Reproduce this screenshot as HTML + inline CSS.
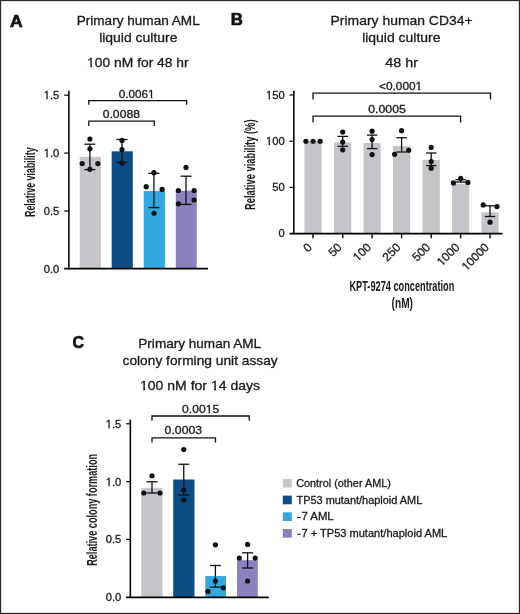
<!DOCTYPE html>
<html><head><meta charset="utf-8"><style>
html,body{margin:0;padding:0;background:#fff;overflow:hidden;}
svg{display:block;will-change:transform;font-family:"Liberation Sans",sans-serif;}
</style></head><body>
<svg width="520" height="614" viewBox="0 0 520 614">
<rect x="0" y="0" width="520" height="614" fill="#fff"/>
<rect x="79.7" y="156.9" width="21.2" height="112.1" fill="#c6c4c9"/>
<rect x="111.7" y="151.3" width="21.1" height="117.69999999999999" fill="#0e4c86"/>
<rect x="143.7" y="191" width="21.2" height="78" fill="#31a8df"/>
<rect x="175.8" y="190.7" width="21.0" height="78.30000000000001" fill="#8d80bf"/>
<rect x="304.4" y="141.25" width="17.2" height="92.35" fill="#c6c4c9"/>
<rect x="334.09999999999997" y="142.5" width="17.2" height="91.1" fill="#c6c4c9"/>
<rect x="363.5" y="143" width="17.2" height="90.6" fill="#c6c4c9"/>
<rect x="393.0" y="146" width="17.2" height="87.6" fill="#c6c4c9"/>
<rect x="422.59999999999997" y="159.9" width="17.2" height="73.69999999999999" fill="#c6c4c9"/>
<rect x="452.0" y="183.8" width="17.2" height="49.79999999999998" fill="#c6c4c9"/>
<rect x="481.4" y="212.3" width="17.2" height="21.299999999999983" fill="#c6c4c9"/>
<rect x="141.25" y="488.25" width="21.25" height="109.04999999999995" fill="#c6c4c9"/>
<rect x="173.25" y="479.5" width="21.25" height="117.79999999999995" fill="#0e4c86"/>
<rect x="205.25" y="576.1" width="20.75" height="21.199999999999932" fill="#31a8df"/>
<rect x="237" y="560.2" width="20.8" height="37.09999999999991" fill="#8d80bf"/>
<line x1="68.9" y1="90.8" x2="68.9" y2="269.4" stroke="#000" stroke-width="1.55"/>
<line x1="64.2" y1="268.7" x2="208" y2="268.7" stroke="#000" stroke-width="1.8"/>
<line x1="64.2" y1="95.20000000000002" x2="68.9" y2="95.20000000000002" stroke="#000" stroke-width="1.2"/>
<line x1="64.2" y1="153.09999999999997" x2="68.9" y2="153.09999999999997" stroke="#000" stroke-width="1.2"/>
<line x1="64.2" y1="210.99999999999997" x2="68.9" y2="210.99999999999997" stroke="#000" stroke-width="1.2"/>
<line x1="89.9" y1="144.2" x2="89.9" y2="169.6" stroke="#111" stroke-width="1.3"/>
<line x1="84.4" y1="144.2" x2="95.4" y2="144.2" stroke="#111" stroke-width="1.3"/>
<line x1="84.4" y1="169.6" x2="95.4" y2="169.6" stroke="#111" stroke-width="1.3"/>
<line x1="122" y1="139.5" x2="122" y2="162.4" stroke="#111" stroke-width="1.3"/>
<line x1="116.5" y1="139.5" x2="127.5" y2="139.5" stroke="#111" stroke-width="1.3"/>
<line x1="116.5" y1="162.4" x2="127.5" y2="162.4" stroke="#111" stroke-width="1.3"/>
<line x1="153.9" y1="173.3" x2="153.9" y2="207.6" stroke="#111" stroke-width="1.3"/>
<line x1="148.4" y1="173.3" x2="159.4" y2="173.3" stroke="#111" stroke-width="1.3"/>
<line x1="148.4" y1="207.6" x2="159.4" y2="207.6" stroke="#111" stroke-width="1.3"/>
<line x1="186" y1="176.2" x2="186" y2="204.4" stroke="#111" stroke-width="1.3"/>
<line x1="180.5" y1="176.2" x2="191.5" y2="176.2" stroke="#111" stroke-width="1.3"/>
<line x1="180.5" y1="204.4" x2="191.5" y2="204.4" stroke="#111" stroke-width="1.3"/>
<circle cx="89.9" cy="139.1" r="2.6" fill="#111"/>
<circle cx="89.9" cy="148.8" r="2.6" fill="#111"/>
<circle cx="82.2" cy="163.6" r="2.6" fill="#111"/>
<circle cx="97.9" cy="163.6" r="2.6" fill="#111"/>
<circle cx="89.9" cy="169.3" r="2.6" fill="#111"/>
<circle cx="122" cy="140.4" r="2.6" fill="#111"/>
<circle cx="122" cy="149.7" r="2.6" fill="#111"/>
<circle cx="122" cy="163.3" r="2.6" fill="#111"/>
<circle cx="153.9" cy="172.7" r="2.6" fill="#111"/>
<circle cx="146.2" cy="186.7" r="2.6" fill="#111"/>
<circle cx="162.1" cy="189.4" r="2.6" fill="#111"/>
<circle cx="154" cy="213.25" r="2.6" fill="#111"/>
<circle cx="186" cy="167.4" r="2.6" fill="#111"/>
<circle cx="178.4" cy="190.5" r="2.6" fill="#111"/>
<circle cx="194.1" cy="190.5" r="2.6" fill="#111"/>
<circle cx="194.1" cy="200" r="2.6" fill="#111"/>
<circle cx="178.4" cy="203.8" r="2.6" fill="#111"/>
<polyline points="88.8,104.8 88.8,100.6 186.6,100.6 186.6,104.8" fill="none" stroke="#111" stroke-width="1.3"/>
<polyline points="88.8,126 88.8,121.2 154.3,121.2 154.3,126" fill="none" stroke="#111" stroke-width="1.3"/>
<line x1="293.8" y1="90.8" x2="293.8" y2="234.3" stroke="#000" stroke-width="1.55"/>
<line x1="289.5" y1="233.6" x2="502.5" y2="233.6" stroke="#000" stroke-width="1.8"/>
<line x1="289.5" y1="95.0" x2="293.8" y2="95.0" stroke="#000" stroke-width="1.2"/>
<line x1="289.5" y1="141.2" x2="293.8" y2="141.2" stroke="#000" stroke-width="1.2"/>
<line x1="289.5" y1="187.39999999999998" x2="293.8" y2="187.39999999999998" stroke="#000" stroke-width="1.2"/>
<line x1="313" y1="233.6" x2="313" y2="238.3" stroke="#000" stroke-width="1.4"/>
<line x1="342.7" y1="233.6" x2="342.7" y2="238.3" stroke="#000" stroke-width="1.4"/>
<line x1="372.1" y1="233.6" x2="372.1" y2="238.3" stroke="#000" stroke-width="1.4"/>
<line x1="401.6" y1="233.6" x2="401.6" y2="238.3" stroke="#000" stroke-width="1.4"/>
<line x1="431.2" y1="233.6" x2="431.2" y2="238.3" stroke="#000" stroke-width="1.4"/>
<line x1="460.6" y1="233.6" x2="460.6" y2="238.3" stroke="#000" stroke-width="1.4"/>
<line x1="490" y1="233.6" x2="490" y2="238.3" stroke="#000" stroke-width="1.4"/>
<line x1="342.7" y1="136.4" x2="342.7" y2="146.3" stroke="#111" stroke-width="1.3"/>
<line x1="337.5" y1="136.4" x2="347.9" y2="136.4" stroke="#111" stroke-width="1.3"/>
<line x1="337.5" y1="146.3" x2="347.9" y2="146.3" stroke="#111" stroke-width="1.3"/>
<line x1="372.1" y1="135.1" x2="372.1" y2="148.6" stroke="#111" stroke-width="1.3"/>
<line x1="366.90000000000003" y1="135.1" x2="377.3" y2="135.1" stroke="#111" stroke-width="1.3"/>
<line x1="366.90000000000003" y1="148.6" x2="377.3" y2="148.6" stroke="#111" stroke-width="1.3"/>
<line x1="401.6" y1="137.7" x2="401.6" y2="152" stroke="#111" stroke-width="1.3"/>
<line x1="396.40000000000003" y1="137.7" x2="406.8" y2="137.7" stroke="#111" stroke-width="1.3"/>
<line x1="396.40000000000003" y1="152" x2="406.8" y2="152" stroke="#111" stroke-width="1.3"/>
<line x1="431.2" y1="153" x2="431.2" y2="165.6" stroke="#111" stroke-width="1.3"/>
<line x1="426.0" y1="153" x2="436.4" y2="153" stroke="#111" stroke-width="1.3"/>
<line x1="426.0" y1="165.6" x2="436.4" y2="165.6" stroke="#111" stroke-width="1.3"/>
<line x1="460.6" y1="179.7" x2="460.6" y2="182.1" stroke="#111" stroke-width="1.3"/>
<line x1="455.40000000000003" y1="179.7" x2="465.8" y2="179.7" stroke="#111" stroke-width="1.3"/>
<line x1="455.40000000000003" y1="182.1" x2="465.8" y2="182.1" stroke="#111" stroke-width="1.3"/>
<line x1="490" y1="205.8" x2="490" y2="216.5" stroke="#111" stroke-width="1.3"/>
<line x1="484.8" y1="205.8" x2="495.2" y2="205.8" stroke="#111" stroke-width="1.3"/>
<line x1="484.8" y1="216.5" x2="495.2" y2="216.5" stroke="#111" stroke-width="1.3"/>
<circle cx="305.9" cy="141.25" r="2.6" fill="#111"/>
<circle cx="313" cy="141.25" r="2.6" fill="#111"/>
<circle cx="320.1" cy="141.25" r="2.6" fill="#111"/>
<circle cx="342.7" cy="132.1" r="2.6" fill="#111"/>
<circle cx="342.7" cy="142" r="2.6" fill="#111"/>
<circle cx="342.7" cy="149.8" r="2.6" fill="#111"/>
<circle cx="372.1" cy="131.2" r="2.6" fill="#111"/>
<circle cx="372.1" cy="139.6" r="2.6" fill="#111"/>
<circle cx="372.1" cy="154.6" r="2.6" fill="#111"/>
<circle cx="401.6" cy="130.7" r="2.6" fill="#111"/>
<circle cx="394.6" cy="154.3" r="2.6" fill="#111"/>
<circle cx="408.7" cy="150.3" r="2.6" fill="#111"/>
<circle cx="431.2" cy="147.4" r="2.6" fill="#111"/>
<circle cx="431.2" cy="161.6" r="2.6" fill="#111"/>
<circle cx="431.2" cy="168.2" r="2.6" fill="#111"/>
<circle cx="453.4" cy="182.9" r="2.6" fill="#111"/>
<circle cx="460.7" cy="178.4" r="2.6" fill="#111"/>
<circle cx="467.9" cy="182.4" r="2.6" fill="#111"/>
<circle cx="483.2" cy="204.9" r="2.6" fill="#111"/>
<circle cx="497" cy="206.6" r="2.6" fill="#111"/>
<circle cx="490" cy="222.2" r="2.6" fill="#111"/>
<polyline points="313,99.4 313,93.2 490.5,93.2 490.5,99.4" fill="none" stroke="#111" stroke-width="1.3"/>
<polyline points="313,122.4 313,116.2 460.6,116.2 460.6,122.4" fill="none" stroke="#111" stroke-width="1.3"/>
<line x1="130.35" y1="419.6" x2="130.35" y2="598" stroke="#000" stroke-width="1.55"/>
<line x1="126.1" y1="597.3" x2="268.8" y2="597.3" stroke="#000" stroke-width="1.8"/>
<line x1="126.1" y1="423.80000000000007" x2="130.35" y2="423.80000000000007" stroke="#000" stroke-width="1.2"/>
<line x1="126.1" y1="481.6333333333333" x2="130.35" y2="481.6333333333333" stroke="#000" stroke-width="1.2"/>
<line x1="126.1" y1="539.4666666666667" x2="130.35" y2="539.4666666666667" stroke="#000" stroke-width="1.2"/>
<line x1="152" y1="481.75" x2="152" y2="493" stroke="#111" stroke-width="1.3"/>
<line x1="146.5" y1="481.75" x2="157.5" y2="481.75" stroke="#111" stroke-width="1.3"/>
<line x1="146.5" y1="493" x2="157.5" y2="493" stroke="#111" stroke-width="1.3"/>
<line x1="183.75" y1="464.25" x2="183.75" y2="495" stroke="#111" stroke-width="1.3"/>
<line x1="178.25" y1="464.25" x2="189.25" y2="464.25" stroke="#111" stroke-width="1.3"/>
<line x1="178.25" y1="495" x2="189.25" y2="495" stroke="#111" stroke-width="1.3"/>
<line x1="215.4" y1="565.5" x2="215.4" y2="587.1" stroke="#111" stroke-width="1.3"/>
<line x1="209.9" y1="565.5" x2="220.9" y2="565.5" stroke="#111" stroke-width="1.3"/>
<line x1="209.9" y1="587.1" x2="220.9" y2="587.1" stroke="#111" stroke-width="1.3"/>
<line x1="247.6" y1="552.8" x2="247.6" y2="568" stroke="#111" stroke-width="1.3"/>
<line x1="242.1" y1="552.8" x2="253.1" y2="552.8" stroke="#111" stroke-width="1.3"/>
<line x1="242.1" y1="568" x2="253.1" y2="568" stroke="#111" stroke-width="1.3"/>
<circle cx="152" cy="475.75" r="2.6" fill="#111"/>
<circle cx="143.75" cy="493" r="2.6" fill="#111"/>
<circle cx="160" cy="493" r="2.6" fill="#111"/>
<circle cx="183.75" cy="449.5" r="2.6" fill="#111"/>
<circle cx="183.75" cy="490" r="2.6" fill="#111"/>
<circle cx="183.75" cy="500" r="2.6" fill="#111"/>
<circle cx="215.4" cy="544.8" r="2.6" fill="#111"/>
<circle cx="215.4" cy="581" r="2.6" fill="#111"/>
<circle cx="208" cy="591.4" r="2.6" fill="#111"/>
<circle cx="223.5" cy="587.8" r="2.6" fill="#111"/>
<circle cx="247.6" cy="544.4" r="2.6" fill="#111"/>
<circle cx="239.3" cy="558.1" r="2.6" fill="#111"/>
<circle cx="255.2" cy="558.1" r="2.6" fill="#111"/>
<circle cx="247.6" cy="581" r="2.6" fill="#111"/>
<polyline points="152,420.8 152,416 249.25,416 249.25,420.8" fill="none" stroke="#111" stroke-width="1.3"/>
<polyline points="152,442.4 152,437.8 215.5,437.8 215.5,442.4" fill="none" stroke="#111" stroke-width="1.3"/>
<rect x="282.8" y="478.9" width="9" height="8.7" fill="#c6c4c9"/>
<rect x="282.8" y="495.59999999999997" width="9" height="8.7" fill="#0e4c86"/>
<rect x="282.8" y="512.3" width="9" height="8.7" fill="#31a8df"/>
<rect x="297.1" y="516.9499999999999" width="3.5" height="1.1" fill="#1a1a1a"/>
<rect x="282.8" y="529.0" width="9" height="8.7" fill="#8d80bf"/>
<rect x="297.1" y="533.65" width="3.5" height="1.1" fill="#1a1a1a"/>
<text x="9.95" y="27.20" font-size="17" textLength="12.64" lengthAdjust="spacingAndGlyphs" fill="#111" font-weight="bold" stroke="#111" stroke-width="0.7">A</text>
<text x="230.79" y="24.70" font-size="17" textLength="12.11" lengthAdjust="spacingAndGlyphs" fill="#111" font-weight="bold" stroke="#111" stroke-width="0.7">B</text>
<text x="72.56" y="347.80" font-size="17" textLength="11.49" lengthAdjust="spacingAndGlyphs" fill="#111" font-weight="bold" stroke="#111" stroke-width="0.7">C</text>
<text x="76.67" y="24.90" font-size="13.4" textLength="123.08" lengthAdjust="spacingAndGlyphs" fill="#1a1a1a" stroke="#1a1a1a" stroke-width="0.3">Primary human AML</text>
<text x="99.16" y="42.00" font-size="13.4" textLength="78.24" lengthAdjust="spacingAndGlyphs" fill="#1a1a1a" stroke="#1a1a1a" stroke-width="0.3">liquid culture</text>
<text x="87.13" y="67.30" font-size="13.4" textLength="101.55" lengthAdjust="spacingAndGlyphs" fill="#1a1a1a" stroke="#1a1a1a" stroke-width="0.3">100 nM for 48 hr</text>
<text x="43.74" y="98.80" font-size="11.2" textLength="15.57" lengthAdjust="spacingAndGlyphs" fill="#1a1a1a" stroke="#1a1a1a" stroke-width="0.3">1.5</text>
<text x="43.74" y="156.70" font-size="11.2" textLength="15.57" lengthAdjust="spacingAndGlyphs" fill="#1a1a1a" stroke="#1a1a1a" stroke-width="0.3">1.0</text>
<text x="43.74" y="214.60" font-size="11.2" textLength="15.57" lengthAdjust="spacingAndGlyphs" fill="#1a1a1a" stroke="#1a1a1a" stroke-width="0.3">0.5</text>
<text x="43.74" y="272.50" font-size="11.2" textLength="15.57" lengthAdjust="spacingAndGlyphs" fill="#1a1a1a" stroke="#1a1a1a" stroke-width="0.3">0.0</text>
<text x="-217.03" y="0.00" font-size="14.2" textLength="69.70" lengthAdjust="spacingAndGlyphs" fill="#1a1a1a" font-weight="bold" transform="translate(35.1,0) rotate(-90)">Relative viability</text>
<text x="118.85" y="97.50" font-size="10.8" textLength="35.79" lengthAdjust="spacingAndGlyphs" fill="#1a1a1a" stroke="#1a1a1a" stroke-width="0.3">0.0061</text>
<text x="102.74" y="117.80" font-size="10.8" textLength="37.20" lengthAdjust="spacingAndGlyphs" fill="#1a1a1a" stroke="#1a1a1a" stroke-width="0.3">0.0088</text>
<text x="330.59" y="25.00" font-size="13.4" textLength="142.03" lengthAdjust="spacingAndGlyphs" fill="#1a1a1a" stroke="#1a1a1a" stroke-width="0.3">Primary human CD34+</text>
<text x="362.16" y="41.60" font-size="13.4" textLength="78.34" lengthAdjust="spacingAndGlyphs" fill="#1a1a1a" stroke="#1a1a1a" stroke-width="0.3">liquid culture</text>
<text x="385.21" y="66.80" font-size="13.4" textLength="32.77" lengthAdjust="spacingAndGlyphs" fill="#1a1a1a" stroke="#1a1a1a" stroke-width="0.3">48 hr</text>
<text x="266.02" y="98.60" font-size="11.2" textLength="18.69" lengthAdjust="spacingAndGlyphs" fill="#1a1a1a" stroke="#1a1a1a" stroke-width="0.3">150</text>
<text x="266.02" y="144.80" font-size="11.2" textLength="18.69" lengthAdjust="spacingAndGlyphs" fill="#1a1a1a" stroke="#1a1a1a" stroke-width="0.3">100</text>
<text x="272.25" y="191.00" font-size="11.2" textLength="12.46" lengthAdjust="spacingAndGlyphs" fill="#1a1a1a" stroke="#1a1a1a" stroke-width="0.3">50</text>
<text x="278.48" y="237.20" font-size="11.2" textLength="6.23" lengthAdjust="spacingAndGlyphs" fill="#1a1a1a" stroke="#1a1a1a" stroke-width="0.3">0</text>
<text x="-210.06" y="0.00" font-size="14.2" textLength="90.56" lengthAdjust="spacingAndGlyphs" fill="#1a1a1a" font-weight="bold" transform="translate(255.1,0) rotate(-90)">Relative viability (%)</text>
<text x="379.03" y="90.40" font-size="10.8" textLength="43.22" lengthAdjust="spacingAndGlyphs" fill="#1a1a1a" stroke="#1a1a1a" stroke-width="0.3">&lt;0.0001</text>
<text x="368.23" y="112.90" font-size="10.8" textLength="37.61" lengthAdjust="spacingAndGlyphs" fill="#1a1a1a" stroke="#1a1a1a" stroke-width="0.3">0.0005</text>
<text x="349.45" y="291.25" font-size="14.0" textLength="104.86" lengthAdjust="spacingAndGlyphs" fill="#1a1a1a" font-weight="bold">KPT-9274 concentration</text>
<text x="391.60" y="308.25" font-size="14.0" textLength="21.34" lengthAdjust="spacingAndGlyphs" fill="#1a1a1a" font-weight="bold">(nM)</text>
<text x="138.32" y="347.90" font-size="12.8" textLength="122.83" lengthAdjust="spacingAndGlyphs" fill="#1a1a1a" stroke="#1a1a1a" stroke-width="0.3">Primary human AML</text>
<text x="122.55" y="365.20" font-size="12.8" textLength="155.15" lengthAdjust="spacingAndGlyphs" fill="#1a1a1a" stroke="#1a1a1a" stroke-width="0.3">colony forming unit assay</text>
<text x="140.02" y="390.00" font-size="12.8" textLength="120.00" lengthAdjust="spacingAndGlyphs" fill="#1a1a1a" stroke="#1a1a1a" stroke-width="0.3">100 nM for 14 days</text>
<text x="105.74" y="427.80" font-size="11.2" textLength="15.57" lengthAdjust="spacingAndGlyphs" fill="#1a1a1a" stroke="#1a1a1a" stroke-width="0.3">1.5</text>
<text x="105.74" y="485.63" font-size="11.2" textLength="15.57" lengthAdjust="spacingAndGlyphs" fill="#1a1a1a" stroke="#1a1a1a" stroke-width="0.3">1.0</text>
<text x="105.74" y="543.47" font-size="11.2" textLength="15.57" lengthAdjust="spacingAndGlyphs" fill="#1a1a1a" stroke="#1a1a1a" stroke-width="0.3">0.5</text>
<text x="105.74" y="601.30" font-size="11.2" textLength="15.57" lengthAdjust="spacingAndGlyphs" fill="#1a1a1a" stroke="#1a1a1a" stroke-width="0.3">0.0</text>
<text x="-565.85" y="0.00" font-size="14.2" textLength="111.91" lengthAdjust="spacingAndGlyphs" fill="#1a1a1a" font-weight="bold" transform="translate(96.5,0) rotate(-90)">Relative colony formation</text>
<text x="182.14" y="412.50" font-size="10.8" textLength="37.05" lengthAdjust="spacingAndGlyphs" fill="#1a1a1a" stroke="#1a1a1a" stroke-width="0.3">0.0015</text>
<text x="164.63" y="434.25" font-size="10.8" textLength="37.56" lengthAdjust="spacingAndGlyphs" fill="#1a1a1a" stroke="#1a1a1a" stroke-width="0.3">0.0003</text>
<text x="296.16" y="486.80" font-size="10.9" textLength="94.71" lengthAdjust="spacingAndGlyphs" fill="#1a1a1a" stroke="#1a1a1a" stroke-width="0.3">Control (other AML)</text>
<text x="296.48" y="503.50" font-size="10.9" textLength="125.80" lengthAdjust="spacingAndGlyphs" fill="#1a1a1a" stroke="#1a1a1a" stroke-width="0.3">TP53 mutant/haploid AML</text>
<text x="301.44" y="520.20" font-size="10.9" textLength="32.25" lengthAdjust="spacingAndGlyphs" fill="#1a1a1a" stroke="#1a1a1a" stroke-width="0.3">7 AML</text>
<text x="301.45" y="536.90" font-size="10.9" textLength="145.84" lengthAdjust="spacingAndGlyphs" fill="#1a1a1a" stroke="#1a1a1a" stroke-width="0.3">7 + TP53 mutant/haploid AML</text>
<text x="0" y="0" font-size="11.9" text-anchor="end" fill="#1a1a1a" stroke="#1a1a1a" stroke-width="0.3" transform="translate(312.8,248.0) rotate(-45)">0</text>
<text x="0" y="0" font-size="11.9" text-anchor="end" fill="#1a1a1a" stroke="#1a1a1a" stroke-width="0.3" transform="translate(342.5,248.0) rotate(-45)">50</text>
<text x="0" y="0" font-size="11.9" text-anchor="end" fill="#1a1a1a" stroke="#1a1a1a" stroke-width="0.3" transform="translate(371.90000000000003,248.0) rotate(-45)">100</text>
<text x="0" y="0" font-size="11.9" text-anchor="end" fill="#1a1a1a" stroke="#1a1a1a" stroke-width="0.3" transform="translate(401.40000000000003,248.0) rotate(-45)">250</text>
<text x="0" y="0" font-size="11.9" text-anchor="end" fill="#1a1a1a" stroke="#1a1a1a" stroke-width="0.3" transform="translate(431.0,248.0) rotate(-45)">500</text>
<text x="0" y="0" font-size="11.9" text-anchor="end" fill="#1a1a1a" stroke="#1a1a1a" stroke-width="0.3" transform="translate(460.40000000000003,248.0) rotate(-45)">1000</text>
<text x="0" y="0" font-size="11.9" text-anchor="end" fill="#1a1a1a" stroke="#1a1a1a" stroke-width="0.3" transform="translate(489.8,248.0) rotate(-45)">10000</text>
<rect x="87.55" y="65.95" width="2.76" height="2.55" fill="#fff"/>
<rect x="92.13" y="65.95" width="2.76" height="2.55" fill="#fff"/>
<rect x="44.08" y="97.63" width="2.18" height="2.37" fill="#fff"/>
<rect x="47.84" y="97.63" width="2.18" height="2.37" fill="#fff"/>
<rect x="44.08" y="155.53" width="2.18" height="2.37" fill="#fff"/>
<rect x="47.84" y="155.53" width="2.18" height="2.37" fill="#fff"/>
<rect x="148.47" y="96.36" width="2.29" height="2.34" fill="#fff"/>
<rect x="152.40" y="96.36" width="2.29" height="2.34" fill="#fff"/>
<rect x="266.36" y="97.43" width="2.18" height="2.37" fill="#fff"/>
<rect x="270.12" y="97.43" width="2.18" height="2.37" fill="#fff"/>
<rect x="266.36" y="143.63" width="2.18" height="2.37" fill="#fff"/>
<rect x="270.12" y="143.63" width="2.18" height="2.37" fill="#fff"/>
<rect x="415.98" y="89.26" width="2.33" height="2.34" fill="#fff"/>
<rect x="419.96" y="89.26" width="2.33" height="2.34" fill="#fff"/>
<rect x="140.44" y="388.70" width="2.80" height="2.50" fill="#fff"/>
<rect x="145.08" y="388.70" width="2.80" height="2.50" fill="#fff"/>
<rect x="211.33" y="388.70" width="2.81" height="2.50" fill="#fff"/>
<rect x="215.97" y="388.70" width="2.81" height="2.50" fill="#fff"/>
<rect x="106.08" y="426.63" width="2.18" height="2.37" fill="#fff"/>
<rect x="109.84" y="426.63" width="2.18" height="2.37" fill="#fff"/>
<rect x="106.08" y="484.46" width="2.18" height="2.37" fill="#fff"/>
<rect x="109.84" y="484.46" width="2.18" height="2.37" fill="#fff"/>
<rect x="206.06" y="411.36" width="2.39" height="2.34" fill="#fff"/>
<rect x="210.12" y="411.36" width="2.39" height="2.34" fill="#fff"/>
<rect x="-19.49" y="-1.23" width="2.33" height="2.43" fill="#fff" transform="translate(371.90000000000003,248.0) rotate(-45)"/>
<rect x="-15.50" y="-1.23" width="2.33" height="2.43" fill="#fff" transform="translate(371.90000000000003,248.0) rotate(-45)"/>
<rect x="-26.10" y="-1.23" width="2.33" height="2.43" fill="#fff" transform="translate(460.40000000000003,248.0) rotate(-45)"/>
<rect x="-22.11" y="-1.23" width="2.33" height="2.43" fill="#fff" transform="translate(460.40000000000003,248.0) rotate(-45)"/>
<rect x="-32.72" y="-1.23" width="2.33" height="2.43" fill="#fff" transform="translate(489.8,248.0) rotate(-45)"/>
<rect x="-28.74" y="-1.23" width="2.33" height="2.43" fill="#fff" transform="translate(489.8,248.0) rotate(-45)"/>
<rect x="0.5" y="0.5" width="519" height="613" fill="none" stroke="#262626" stroke-width="1.3"/>
</svg>
</body></html>
